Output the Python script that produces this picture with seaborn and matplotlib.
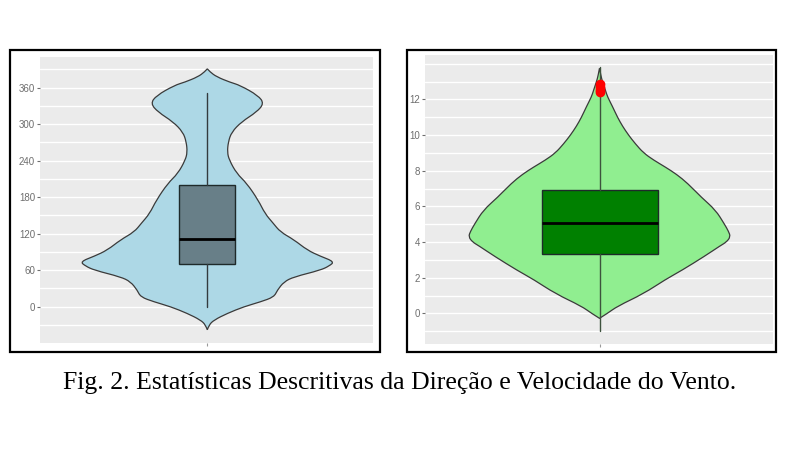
import matplotlib
matplotlib.use("Agg")
import matplotlib.pyplot as plt
from matplotlib.patches import Rectangle, PathPatch
from matplotlib.path import Path
import seaborn as sns

# ---------------- data ----------------
# Wind direction (degrees): violin profile (level, relative half-width)
dir_levels = [391, 386, 378, 369, 364, 347, 334, 320, 304, 287, 271, 254, 241,
              219, 203, 175, 153, 137, 123, 110, 93, 83, 74, 67, 60, 49, 41, 27,
              16, 8, 0, -11, -22, -30, -38]
dir_density = [0, 2.7, 9.3, 22.7, 32.7, 51, 56.7, 49.3, 34.3, 24.3, 21, 20, 22,
               29.4, 39.4, 51, 57.7, 66, 73, 86.7, 100, 113, 127, 122, 113, 86.7,
               76.7, 70, 66.7, 53.3, 36.7, 20, 6.7, 1.7, 0]
dir_whislo, dir_q1, dir_med, dir_q3, dir_whishi = 0, 70, 111, 200, 352
dir_ticks = [0, 60, 120, 180, 240, 300, 360]
dir_minor = [-30, 30, 90, 150, 210, 270, 330, 390]

# Wind speed (m/s): violin profile
spd_levels = [13.75, 13.3, 13.0, 12.5, 12.15, 11.6, 11.0, 10.5, 10.0, 9.5, 9.0,
              8.6, 8.2, 7.8, 7.3, 6.5, 5.8, 5.0, 4.6, 4.3, 4.0, 3.8, 3.2, 2.4,
              1.9, 1.1, 0.4, 0.0, -0.28]
spd_density = [0, 1.5, 3, 6, 8, 13, 18, 23, 29, 36, 44, 54, 66, 77, 88, 102,
               116, 125, 129, 131, 127, 121, 105, 82, 66, 44, 18, 8, 0]
spd_whislo, spd_q1, spd_med, spd_q3, spd_whishi = -1.0, 3.33, 5.05, 6.92, 13.8
spd_outliers = [12.4, 12.55, 12.7, 12.85]
spd_ticks = [0, 2, 4, 6, 8, 10, 12]
spd_minor = [-1, 1, 3, 5, 7, 9, 11, 13, 14]

caption = "Fig. 2. Estatísticas Descritivas da Direção e Velocidade do Vento."

# ---------------- style ----------------
sns.set_theme(style="darkgrid", rc={
    "axes.facecolor": "#EBEBEB",
    "grid.color": "white",
    "axes.edgecolor": "#EBEBEB",
})
plt.rcParams["font.family"] = ["Liberation Sans", "DejaVu Sans"]

fig = plt.figure(figsize=(8, 4.5), dpi=100)
W, H = 800, 450


def fig_axes(x0, y0, x1, y1):
    return fig.add_axes([x0 / W, 1 - y1 / H, (x1 - x0) / W, (y1 - y0) / H])


def smooth_segment(pts):
    """Quadratic-Bezier rendering through the outline points (keeps ends)."""
    verts, codes = [], []
    n = len(pts)
    for i in range(1, n - 1):
        if i == n - 2:
            end = pts[i + 1]
        else:
            end = ((pts[i][0] + pts[i + 1][0]) / 2, (pts[i][1] + pts[i + 1][1]) / 2)
        verts += [pts[i], end]
        codes += [Path.CURVE3, Path.CURVE3]
    return verts, codes


def violin_patch(levels, dens, **kw):
    right = [(d, l) for d, l in zip(dens, levels)]
    left = [(-d, l) for d, l in zip(dens, levels)][::-1]
    verts, codes = [right[0]], [Path.MOVETO]
    v, c = smooth_segment(right)
    verts += v; codes += c
    v, c = smooth_segment(left)
    verts += v; codes += c
    verts.append(right[0]); codes.append(Path.CLOSEPOLY)
    return PathPatch(Path(verts, codes), **kw)


def draw_panel(ax, levels, dens, stats, fliers, fill, box_fill, box_w,
               xlim, ylim, ticks, minor, whisk_color):
    ax.set_xlim(*xlim)
    ax.set_ylim(*ylim)
    ax.set_yticks(ticks)
    ax.set_yticklabels([str(t) for t in ticks])
    ax.set_yticks(minor, minor=True)
    ax.set_xticks([0])
    ax.set_xticklabels([""])
    ax.grid(which="both", axis="y", color="white", lw=1.0)
    ax.grid(which="both", axis="x", visible=False)
    ax.set_axisbelow(True)
    for s in ax.spines.values():
        s.set_visible(False)
    ax.tick_params(axis="y", which="major", length=2.5, width=0.8,
                   color="#6e6e6e", labelcolor="#6e6e6e", labelsize=7, pad=1,
                   left=True)
    ax.tick_params(axis="y", which="minor", length=0)
    ax.tick_params(axis="x", which="major", length=2.5, width=0.8,
                   color="#9a9a9a", bottom=True, pad=0)
    ax.add_patch(violin_patch(levels, dens, facecolor=fill,
                              edgecolor="#3a3a3a", lw=0.9, zorder=2))
    st = dict(med=stats[2], q1=stats[1], q3=stats[3], whislo=stats[0],
              whishi=stats[4], fliers=fliers)
    ax.bxp([st], positions=[0], widths=box_w, patch_artist=True,
           showcaps=False, showfliers=True, manage_ticks=False,
           boxprops=dict(facecolor=box_fill, edgecolor="#1e2a2a", lw=1.0),
           medianprops=dict(color="black", lw=2.0),
           whiskerprops=dict(color=whisk_color, lw=1.0),
           flierprops=dict(marker="o", markerfacecolor="#ff0000",
                           markeredgecolor="#ff0000", markersize=6),
           zorder=3)


axL = fig_axes(40, 56.7, 372.7, 342.7)
draw_panel(axL, dir_levels, dir_density,
           (dir_whislo, dir_q1, dir_med, dir_q3, dir_whishi), [],
           "#ADD8E6", "#687F88", 56, (-167.3, 165.4), (-59.2, 411),
           dir_ticks, dir_minor, "#333b3f")

axR = fig_axes(425, 55, 773, 344)
draw_panel(axR, spd_levels, spd_density,
           (spd_whislo, spd_q1, spd_med, spd_q3, spd_whishi), spd_outliers,
           "#90EE90", "#008000", 116, (-174.5, 173.5), (-1.72, 14.49),
           spd_ticks, spd_minor, "#3d523d")

# black frames around each panel
for (x0, y0, x1, y1) in [(10, 49.5, 379.5, 352), (406.5, 49.5, 775.5, 352)]:
    fig.add_artist(Rectangle((x0 / W, 1 - y1 / H), (x1 - x0) / W, (y1 - y0) / H,
                             transform=fig.transFigure, fill=False,
                             edgecolor="black", lw=1.6))

fig.text(0.5, 1 - 383 / H, caption, ha="center", va="center",
         family=["Liberation Serif", "DejaVu Serif"], fontsize=18.5,
         color="black")

fig.savefig("out.png", dpi=100, facecolor="white")
